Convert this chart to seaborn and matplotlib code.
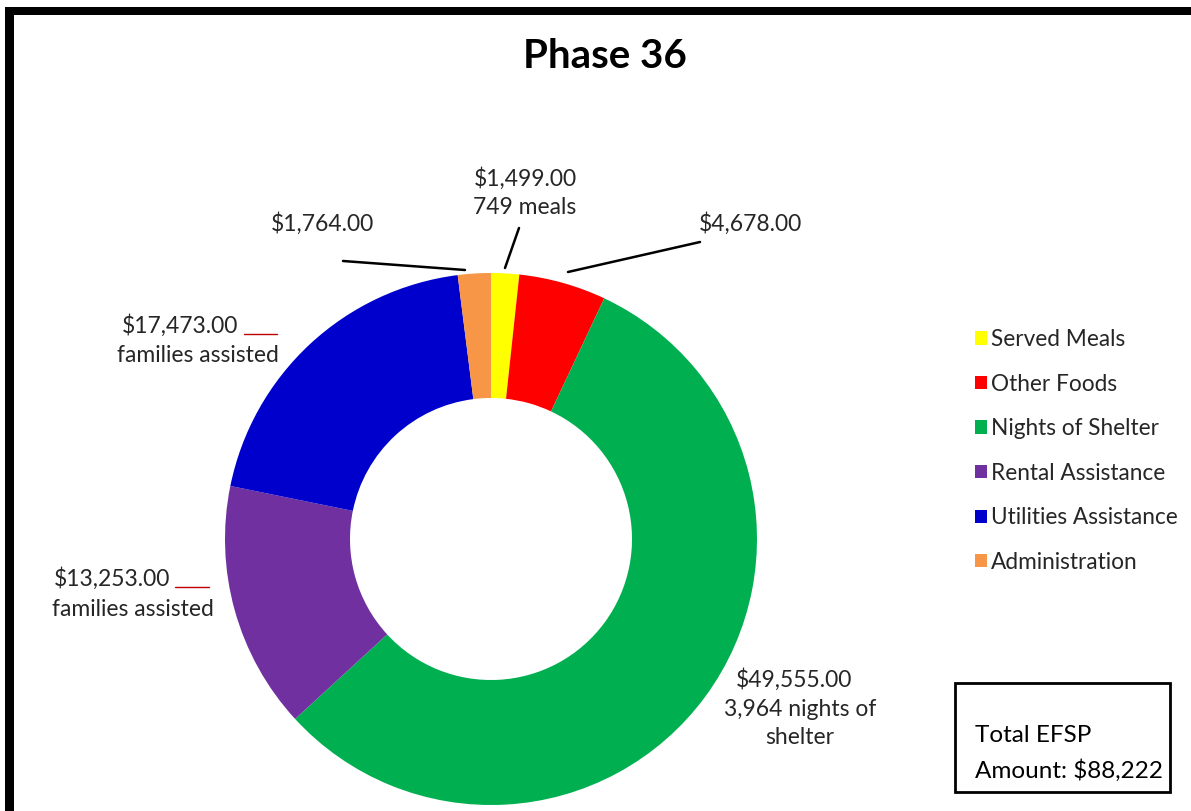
import matplotlib
matplotlib.use("Agg")
import matplotlib.pyplot as plt
from matplotlib.patches import Rectangle, Patch
import seaborn as sns

categories = ["Served Meals", "Other Foods", "Nights of Shelter",
              "Rental Assistance", "Utilities Assistance", "Administration"]
amounts = [1499.00, 4678.00, 49555.00, 13253.00, 17473.00, 1764.00]
colors = ["#FFFF00", "#FF0000", "#00B050", "#7030A0", "#0000CC", "#F79646"]
title = "Phase 36"
total_lines = ["Total EFSP", "Amount: $88,222"]

sns.set_theme(style="white")
plt.rcParams["font.family"] = ["Lato", "DejaVu Sans"]

W, H = 1191, 811
fig = plt.figure(figsize=(W / 100, H / 100), dpi=100)
ax = fig.add_axes([0, 0, 1, 1])

def Y(y):
    return H - y

palette = sns.color_palette(colors)
wedges, _ = ax.pie(amounts, colors=palette, startangle=90, counterclock=False,
                   radius=266, center=(491, Y(539)),
                   wedgeprops=dict(width=125, edgecolor="none"))
ax.set_xlim(0, W)
ax.set_ylim(0, H)
ax.set_aspect("equal")
ax.axis("off")

txt = dict(color="#262626", fontsize=16.5, ha="center", va="center")

# title
ax.text(605, Y(57), title, fontsize=29, fontweight="bold", ha="center",
        va="center", color="black")

# data labels
ax.text(525, Y(179), "$1,499.00", **txt)
ax.text(525, Y(208), "749 meals", **txt)
ax.plot([519, 505], [Y(228), Y(268)], color="black", lw=1.8)

ax.text(322, Y(224), "$1,764.00", **txt)
ax.plot([343, 465], [Y(261), Y(270)], color="black", lw=1.8)

ax.text(750, Y(224), "$4,678.00", **txt)
ax.plot([568, 700], [Y(272), Y(242)], color="black", lw=1.8)

ax.text(180, Y(326), "$17,473.00", **txt)
ax.plot([244, 277], [Y(334), Y(334)], color="#C00000", lw=1)
ax.text(198, Y(355), "families assisted", **txt)

ax.text(112, Y(579), "$13,253.00", **txt)
ax.plot([175, 209], [Y(587), Y(587)], color="#C00000", lw=1)
ax.text(133, Y(609), "families assisted", **txt)

ax.text(794, Y(680), "$49,555.00", **txt)
ax.text(800, Y(709), "3,964 nights of", **txt)
ax.text(800, Y(738), "shelter", **txt)

# legend
handles = [Patch(facecolor=c, edgecolor="none") for c in colors]
leg = ax.legend(handles, categories, loc="upper left",
                bbox_to_anchor=(975 / W, 1 - 329 / H),
                bbox_transform=fig.transFigure, frameon=False,
                fontsize=16.3, handlelength=0.52, handleheight=0.52,
                handletextpad=0.2, labelspacing=1.04, borderpad=0,
                borderaxespad=0)
for t in leg.get_texts():
    t.set_color("#262626")

# total box
ax.add_patch(Rectangle((955, Y(792)), 215, 109, facecolor="white",
                       edgecolor="black", lw=2))
ax.text(975, Y(735), total_lines[0], fontsize=17.5, ha="left", va="center",
        color="black")
ax.text(975, Y(771), total_lines[1], fontsize=17.5, ha="left", va="center",
        color="black")

# frame bands (top and left)
fig.add_artist(Rectangle((5 / W, 1 - 15 / H), 1 - 5 / W, 8 / H,
                         transform=fig.transFigure, facecolor="black",
                         edgecolor="none"))
fig.add_artist(Rectangle((5 / W, 0), 9 / W, 1 - 7 / H,
                         transform=fig.transFigure, facecolor="black",
                         edgecolor="none"))

fig.savefig("out.png", dpi=100, facecolor="white")
